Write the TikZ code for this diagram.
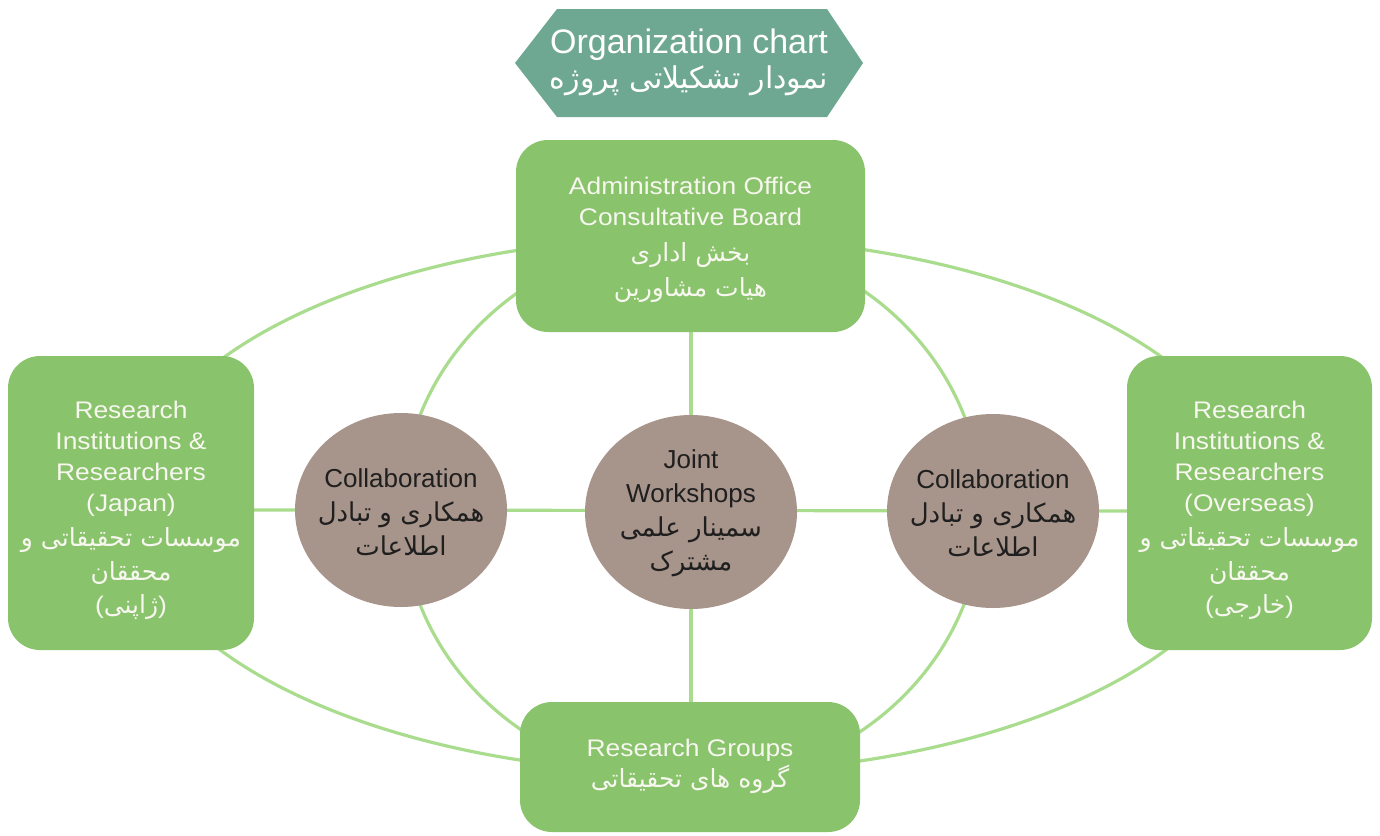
\documentclass[tikz,border=0pt]{standalone}
\usepackage{fontspec}
\setmainfont{Liberation Sans}
\newfontfamily\boxfont[FakeStretch=1.1]{Liberation Sans}
\newfontfamily\fa[Script=Arabic]{DejaVu Sans}
\TeXXeTstate=1
\usetikzlibrary{shapes.geometric,backgrounds}
\definecolor{boxgreen}{HTML}{89C36B}
\definecolor{titlegreen}{HTML}{6FA892}
\definecolor{taupe}{HTML}{A7948A}
\definecolor{linegreen}{HTML}{AADC8E}
\definecolor{offwhite}{HTML}{F7F7F0}
\newcommand\fal[1]{{\fa\beginR #1\endR}}
\newcommand\fab[1]{{\fa\fontsize{25}{34}\selectfont\beginR #1\endR}}
\begin{document}
\begin{tikzpicture}[x=1pt,y=-1pt,
  gbox/.style={rectangle, rounded corners=32pt, fill=boxgreen, inner sep=0pt},
  gtext/.style={text=offwhite, align=center, inner sep=0pt, font=\boxfont\fontsize{24}{31}\selectfont},
  disc/.style={ellipse, fill=taupe, inner sep=0pt, minimum width=212pt, minimum height=194pt},
  dtext/.style={text=black!88, align=center, inner sep=0pt, font=\fontsize{26}{34}\selectfont},
  link/.style={draw=linegreen, line width=3.2pt}]
\useasboundingbox (0,0) rectangle (1380,835);

\node[text=white, align=center, font=\fontsize{34}{34}\selectfont] (title) at (689,62)
  {Organization chart\\[1pt]{\fa\fontsize{30}{30}\selectfont\beginR نمودار تشکیلاتی پروژه\endR}};

\node[gbox, minimum width=349pt, minimum height=192pt] (top) at (690.5,236) {};
\node[gtext] (topT) at (690.5,240)
  {Administration Office\\Consultative Board\\[5pt]\fab{بخش اداری}\\[4pt]\fab{هیات مشاورین}};
\node[gbox, minimum width=246pt, minimum height=294pt] (left) at (131,503) {};
\node[gtext] (leftT) at (131,510)
  {Research\\Institutions \&\\Researchers\\(Japan)\\[4pt]\fab{موسسات تحقیقاتی و}\\[3pt]\fab{محققان}\\[2pt](\fab{ژاپنی})};
\node[gbox, minimum width=245pt, minimum height=294pt] (right) at (1249.5,503) {};
\node[gtext] (rightT) at (1249.5,510)
  {Research\\Institutions \&\\Researchers\\(Overseas)\\[4pt]\fab{موسسات تحقیقاتی و}\\[3pt]\fab{محققان}\\[2pt](\fab{خارجی})};
\node[gbox, minimum width=340pt, minimum height=130pt] (bottom) at (690,767) {};
\node[gtext] (bottomT) at (690,766)
  {Research Groups\\\fab{گروه های تحقیقاتی}};

\node[disc] (c1) at (401,510) {};
\node[dtext] (c1T) at (401,512) {Collaboration\\\fal{همکاری و تبادل}\\\fal{اطلاعات}};
\node[disc] (c2) at (691,512) {};
\node[dtext] (c2T) at (691,513) {Joint\\Workshops\\\fal{سمینار علمی}\\\fal{مشترک}};
\node[disc] (c3) at (993,511) {};
\node[dtext] (c3T) at (993,513) {Collaboration\\\fal{همکاری و تبادل}\\\fal{اطلاعات}};

\begin{scope}[on background layer]
  \fill[titlegreen] (515,63) -- (557,9) -- (827,9) -- (863,63) -- (827,117) -- (557,117) -- cycle;
  \coordinate (oc) at (693,505);
  \coordinate (ic) at (692,510);
  \draw[link] (oc) ellipse [x radius=562, y radius=268];
  \draw[link] (ic) ellipse [x radius=290, y radius=272];
  \draw[link] (c2.center |- top.south) -- (c2.center |- bottom.north);
  \draw[link] (c1.center -| left.east) -- (c3.center -| right.west);
\end{scope}
\end{tikzpicture}
\end{document}
